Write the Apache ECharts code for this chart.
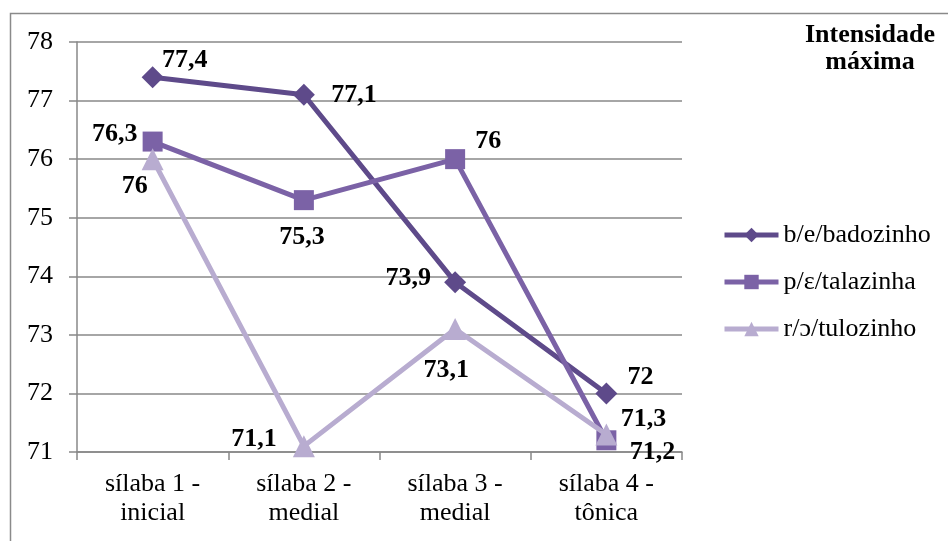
<!DOCTYPE html>
<html>
<head>
<meta charset="utf-8">
<script src="https://cdn.jsdelivr.net/npm/echarts@6/dist/echarts.min.js"></script>
<style>
  html, body { margin: 0; padding: 0; background: #fff; }
  #chart { width: 948px; height: 541px; }
</style>
</head>
<body>
<div id="chart"></div>
<script>
// Syllable positions on the x axis
const categories = ['sílaba 1 -\ninicial', 'sílaba 2 -\nmedial', 'sílaba 3 -\nmedial', 'sílaba 4 -\ntônica'];

// Maximum intensity per syllable
const badozinho = [77.4, 77.1, 73.9, 72];
const talazinha = [76.3, 75.3, 76, 71.2];
const tulozinho = [76, 71.1, 73.1, 71.3];

const seriesNames = ['b/e/badozinho', 'p/ε/talazinha', 'r/ɔ/tulozinho'];

// Value-label offsets (centre of label relative to the point)
const labelOffsets = [
  [[32, -17], [50, 1], [-47, -4], [34, -16]],
  [[-38, -7], [-2, 37], [33, -18], [46, 12]],
  [[-18, 27], [-50, -7], [-9, 41], [37, -15]]
];

const colors = ['#5E4A8A', '#7B62A6', '#B8ACD0'];
const symbols = ['diamond', 'rect', 'triangle'];
const symbolSizes = [22, 20, 22];
const serif = '"Liberation Serif", "Times New Roman", serif';

function buildData(values, offsets) {
  return values.map((v, i) => ({
    value: v,
    label: { offset: offsets[i] }
  }));
}

const valueSets = [badozinho, talazinha, tulozinho];

const series = valueSets.map((vals, s) => ({
  name: seriesNames[s],
  type: 'line',
  data: buildData(vals, labelOffsets[s]),
  symbol: symbols[s],
  symbolSize: symbolSizes[s],
  lineStyle: { width: 5, color: colors[s] },
  itemStyle: { color: colors[s] },
  z: 2 + s,
  label: {
    show: true,
    position: 'inside',
    formatter: p => String(p.value).replace('.', ','),
    fontFamily: serif,
    fontWeight: 'bold',
    fontSize: 26,
    color: '#000'
  },
  emphasis: { disabled: true },
  animation: false
}));

const chart = echarts.init(document.getElementById('chart'), null, { renderer: 'canvas' });
chart.setOption({
  backgroundColor: '#fff',
  animation: false,
  title: {
    text: 'Intensidade\nmáxima',
    left: 870,
    top: 22,
    padding: 0,
    textAlign: 'center',
    textStyle: {
      fontFamily: serif,
      fontWeight: 'bold',
      fontSize: 26,
      lineHeight: 27,
      color: '#000'
    }
  },
  legend: {
    orient: 'vertical',
    left: 722,
    top: 222,
    padding: 0,
    itemWidth: 54,
    itemHeight: 18,
    itemGap: 21,
    data: seriesNames,
    lineStyle: { width: 5 },
    textStyle: {
      fontFamily: serif,
      fontSize: 26,
      color: '#000'
    }
  },
  graphic: [{
    type: 'rect',
    shape: { x: 10.5, y: 13.5, width: 960, height: 560 },
    style: { fill: 'none', stroke: '#8a8a8a', lineWidth: 1.5 },
    silent: true,
    z: -1
  }],
  grid: { left: 77, top: 42, right: 266, bottom: 89 },
  xAxis: {
    type: 'category',
    data: categories,
    boundaryGap: true,
    axisLine: { lineStyle: { color: '#888', width: 1.5 } },
    axisTick: { show: true, length: 8, interval: 0, lineStyle: { color: '#888', width: 1.5 } },
    axisLabel: {
      fontFamily: serif,
      fontSize: 26,
      lineHeight: 29,
      color: '#000',
      margin: 18,
      interval: 0
    }
  },
  yAxis: {
    type: 'value',
    min: 71,
    max: 78,
    interval: 1,
    axisLine: { show: true, lineStyle: { color: '#888', width: 1.5 } },
    axisTick: { show: true, length: 8, lineStyle: { color: '#888', width: 1.5 } },
    splitLine: { lineStyle: { color: '#888', width: 1.5 } },
    axisLabel: {
      fontFamily: serif,
      fontSize: 26,
      color: '#000',
      margin: 24
    }
  },
  series: series
});
</script>
</body>
</html>
